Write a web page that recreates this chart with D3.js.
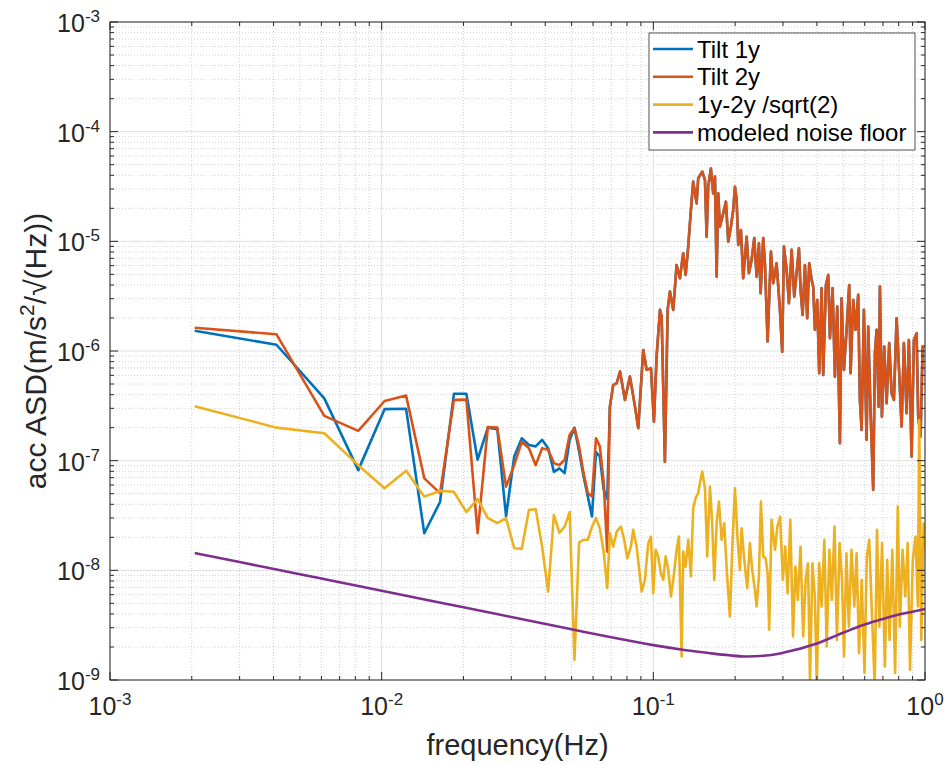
<!DOCTYPE html>
<html>
<head>
<meta charset="utf-8">
<script src="https://cdn.jsdelivr.net/npm/d3@7"></script>
<style>
html, body { margin: 0; padding: 0; background: #fff; }
svg { display: block; font-family: "Liberation Sans", Arial, Helvetica, sans-serif; }
</style>
</head>
<body>
<div id="chart"></div>
<script>
/* DATA */
// Low frequency bins (Hz), shared by the three measured series
const freqLow = [0.00205, 0.0041, 0.00615, 0.0082, 0.01025, 0.0123, 0.01435, 0.0164, 0.01845, 0.0205,
    0.02255, 0.0246, 0.02665, 0.0287, 0.03075, 0.0328, 0.03485, 0.0369, 0.03895, 0.041,
    0.04305, 0.0451, 0.04715, 0.0492, 0.05125, 0.0533, 0.05535, 0.0574, 0.05945, 0.0615,
    0.06355, 0.0656, 0.06765];
const tilt1Low = [1.53e-6, 1.14e-6, 3.7e-7, 8.2e-8, 2.95e-7, 2.97e-7, 2.18e-8, 4.2e-8, 4.07e-7, 4.07e-7,
    1.02e-7, 2.0e-7, 1.94e-7, 3.1e-8, 1.09e-7, 1.6e-7, 1.39e-7, 1.35e-7, 1.55e-7, 1.3e-7,
    7.9e-8, 8.5e-8, 7.7e-8, 1.55e-7, 2.0e-7, 1.21e-7, 7.2e-8, 4.7e-8, 3.1e-8, 1.2e-7,
    1.09e-7, 5.5e-8, 4.5e-8];
const tilt2Low = [1.63e-6, 1.42e-6, 2.56e-7, 1.87e-7, 3.5e-7, 3.92e-7, 6.9e-8, 5.06e-8, 3.58e-7, 3.6e-7,
    2.18e-8, 2.03e-7, 2.0e-7, 5.8e-8, 9.1e-8, 1.49e-7, 1.3e-7, 9.1e-8, 1.3e-7, 1.26e-7,
    9.5e-8, 9.1e-8, 1.02e-7, 1.72e-7, 1.98e-7, 1.35e-7, 7.7e-8, 5.06e-8, 4.7e-8, 1.6e-7,
    1.35e-7, 6.5e-8, 1.48e-8];
const diffLow = [3.14e-7, 2.0e-7, 1.78e-7, 9.1e-8, 5.6e-8, 8.1e-8, 4.7e-8, 5.3e-8, 5.2e-8, 3.4e-8,
    4.45e-8, 3.0e-8, 2.7e-8, 3.0e-8, 1.59e-8, 1.57e-8, 3.56e-8, 3.6e-8, 1.65e-8, 6.4e-9,
    3.2e-8, 2.2e-8, 2.5e-8, 3.4e-8, 1.53e-9, 1.8e-8, 1.9e-8, 1.9e-8, 2.5e-8, 3.0e-8,
    2.4e-8, 1.5e-8, 6.9e-9];

// High frequency part, tilt 1y and 2y lie on top of each other here
const tiltHighF = [0.0692, 0.0712, 0.0733, 0.0754, 0.0786, 0.0820, 0.0856, 0.0880, 0.0918, 0.0945,
    0.0980, 0.1005, 0.1028, 0.1058, 0.1073, 0.1103, 0.1129, 0.1151, 0.1184, 0.1218,
    0.1253, 0.1288, 0.1315, 0.1344, 0.1375, 0.1402, 0.1443, 0.1463, 0.1514, 0.1549,
    0.1571, 0.1592, 0.1629, 0.1661, 0.1686, 0.1710, 0.1733, 0.1758, 0.1808, 0.1850,
    0.1887, 0.1930, 0.1968, 0.1997, 0.2026, 0.2054, 0.2101, 0.2142, 0.2205, 0.2248,
    0.2300, 0.2352, 0.2400, 0.2447, 0.2483, 0.2538, 0.2575, 0.2634, 0.2709, 0.2762,
    0.2843, 0.2924, 0.2981, 0.3025, 0.3095, 0.3156, 0.3229, 0.3301, 0.3368, 0.3435,
    0.3484, 0.3544, 0.3614, 0.3685, 0.3748, 0.3825, 0.3877, 0.3933, 0.4011, 0.4079,
    0.4163, 0.4220, 0.4318, 0.4403, 0.4467, 0.4570, 0.4660, 0.4752, 0.4862, 0.4932,
    0.5029, 0.5146, 0.5260, 0.5323, 0.5442, 0.5553, 0.5677, 0.5759, 0.5843, 0.5958,
    0.6096, 0.6179, 0.6307, 0.6447, 0.6541, 0.6636, 0.6750, 0.6825, 0.6941, 0.7078,
    0.7223, 0.7383, 0.7535, 0.7683, 0.7861, 0.8036, 0.8201, 0.8362, 0.8556, 0.8724,
    0.8926, 0.9102, 0.9313, 0.9440, 0.9634, 0.9799, 1.0];
const tiltHighV = [3.11e-7, 4.91e-7, 5.08e-7, 6.49e-7, 3.58e-7, 5.84e-7, 3.11e-7, 1.98e-7, 1.02e-6, 6.73e-7,
    6.97e-7, 2.27e-7, 8.89e-7, 2.37e-6, 2.06e-6, 9.8e-8, 2.37e-6, 3.48e-6, 2.37e-6, 6.09e-6,
    4.61e-6, 7.79e-6, 4.94e-6, 8.95e-6, 1.93e-5, 3.50e-5, 2.22e-5, 3.76e-5, 4.32e-5, 3.63e-5,
    1.10e-5, 3.15e-5, 4.6e-5, 2.74e-5, 3.89e-5, 4.77e-6, 2.74e-5, 1.36e-5, 1.80e-5, 2.30e-5,
    9.94e-6, 1.36e-5, 1.93e-5, 3.15e-5, 2.38e-5, 9.27e-6, 1.27e-5, 4.61e-6, 1.10e-5, 5.12e-6,
    6.77e-6, 1.07e-5, 4.77e-6, 9.61e-6, 3.36e-6, 1.07e-5, 6.31e-6, 1.22e-6, 8.05e-6, 4.15e-6,
    6.31e-6, 2.37e-6, 9.87e-7, 8.95e-6, 5.48e-6, 2.73e-6, 8.35e-6, 3.13e-6, 5.12e-6, 8.65e-6,
    3.61e-6, 2.13e-6, 6.09e-6, 1.99e-6, 6.31e-6, 4.45e-6, 3.86e-6, 1.56e-6, 2.92e-6, 6.27e-7,
    3.74e-6, 6.05e-7, 4.00e-6, 4.94e-6, 1.31e-6, 3.74e-6, 5.84e-7, 2.54e-6, 1.44e-7, 3.03e-6,
    6.73e-7, 1.56e-6, 4.00e-6, 6.27e-7, 2.92e-6, 1.56e-6, 3.25e-6, 3.58e-7, 1.91e-7, 2.37e-6,
    1.55e-7, 1.67e-6, 2.71e-7, 5.42e-8, 9.55e-7, 1.56e-6, 3.11e-7, 3.86e-6, 2.52e-7, 1.10e-6,
    3.34e-7, 1.18e-6, 4.12e-7, 3.58e-7, 1.99e-6, 6.27e-7, 2.05e-7, 1.18e-6, 2.71e-7, 1.26e-6,
    1.09e-7, 1.26e-6, 1.45e-6, 2.52e-7, 1.66e-7, 1.10e-6, 1.10e-6];

// High frequency part of 1y-2y /sqrt(2)
const diffHighF = [0.0692, 0.0712, 0.0733, 0.0760, 0.0781, 0.0802, 0.0827, 0.0843, 0.0868, 0.0906,
    0.0931, 0.0958, 0.0980, 0.0999, 0.1020, 0.1042, 0.1066, 0.1088, 0.1110, 0.1135,
    0.1161, 0.1184, 0.1218, 0.1242, 0.1271, 0.1288, 0.1315, 0.1344, 0.1375, 0.1402,
    0.1431, 0.1463, 0.1484, 0.1514, 0.1549, 0.1579, 0.1616, 0.1647, 0.1676, 0.1710,
    0.1744, 0.1784, 0.1824, 0.1866, 0.1914, 0.1952, 0.1997, 0.2043, 0.2083, 0.2113,
    0.2161, 0.2216, 0.2267, 0.2312, 0.2366, 0.2400, 0.2447, 0.2489, 0.2538, 0.2590,
    0.2634, 0.2670, 0.2725, 0.2805, 0.2862, 0.2929, 0.2997, 0.3058, 0.3121, 0.3193,
    0.3267, 0.3334, 0.3403, 0.3481, 0.3562, 0.3635, 0.3710, 0.3773, 0.3851, 0.3930,
    0.3997, 0.4079, 0.4163, 0.4260, 0.4347, 0.4448, 0.4539, 0.4644, 0.4740, 0.4849,
    0.4949, 0.5034, 0.5137, 0.5243, 0.5364, 0.5493, 0.5601, 0.5716, 0.5848, 0.5989,
    0.6107, 0.6232, 0.6376, 0.6530, 0.6658, 0.6795, 0.6952, 0.7119, 0.7259, 0.7408,
    0.7580, 0.7762, 0.7941, 0.8077, 0.8271, 0.8463, 0.8637, 0.8807, 0.9018, 0.9227,
    0.9416, 0.9521, 0.9692, 0.9882, 1.0];
const diffHighV = [2.18e-8, 1.65e-8, 2.26e-8, 2.51e-8, 1.90e-8, 1.29e-8, 1.65e-8, 2.34e-8, 1.65e-8, 6.41e-9,
    8.19e-9, 1.77e-8, 2.03e-8, 6.19e-9, 1.54e-8, 1.34e-8, 9.43e-9, 8.19e-9, 1.34e-8, 1.01e-8,
    5.77e-9, 8.19e-9, 1.54e-8, 2.03e-8, 1.64e-9, 1.48e-8, 1.08e-8, 1.90e-8, 8.78e-9, 3.69e-8,
    4.55e-8, 5.05e-8, 6.23e-8, 7.95e-8, 5.61e-8, 1.34e-8, 5.80e-8, 2.69e-8, 8.19e-9, 2.69e-8,
    4.24e-8, 1.90e-8, 2.69e-8, 9.43e-9, 3.79e-9, 1.54e-8, 5.61e-8, 1.90e-8, 1.01e-8, 2.42e-8,
    1.25e-8, 6.88e-9, 1.77e-8, 1.01e-8, 6.64e-9, 4.68e-9, 8.78e-9, 4.24e-8, 1.34e-8, 1.29e-8,
    9.43e-9, 2.87e-9, 2.89e-8, 1.54e-8, 2.51e-8, 3.09e-8, 8.19e-9, 1.65e-8, 6.19e-9, 2.89e-8,
    2.49e-9, 1.08e-8, 5.38e-9, 1.65e-8, 2.49e-9, 8.19e-9, 1.16e-8, 9.5e-10, 1.16e-8, 5.77e-9,
    9.0e-10, 1.16e-8, 4.68e-9, 1.90e-8, 2.02e-9, 1.54e-8, 5.38e-9, 2.51e-8, 2.32e-9, 1.77e-8,
    8.19e-9, 1.64e-9, 1.43e-8, 3.07e-9, 1.54e-8, 4.68e-9, 1.43e-8, 1.76e-9, 8.19e-9, 1.16e-9,
    1.34e-8, 1.90e-8, 4.07e-9, 9.0e-10, 2.34e-8, 3.07e-9, 1.77e-8, 1.33e-9, 1.25e-8, 2.32e-9,
    1.54e-8, 1.16e-9, 3.82e-8, 3.07e-9, 1.54e-8, 5.77e-9, 1.77e-8, 1.24e-9, 1.25e-8, 2.03e-8,
    4.68e-9, 2.35e-7, 2.32e-9, 2.69e-8, 1.54e-8];

// Modeled noise floor
const noiseF = [0.00205, 0.003, 0.005, 0.007, 0.01, 0.015, 0.02, 0.03, 0.05, 0.07, 0.1, 0.13,
    0.16, 0.19, 0.22, 0.26, 0.3, 0.4, 0.5, 0.6, 0.7, 0.8, 0.9, 1.0];
const noiseV = [1.44e-8, 1.19e-8, 9.2e-9, 7.8e-9, 6.5e-9, 5.3e-9, 4.6e-9, 3.75e-9, 2.9e-9, 2.45e-9, 2.08e-9, 1.88e-9,
    1.76e-9, 1.68e-9, 1.64e-9, 1.67e-9, 1.77e-9, 2.15e-9, 2.7e-9, 3.2e-9, 3.6e-9, 3.95e-9, 4.2e-9, 4.45e-9];

// Axes
const xDomain = [1e-3, 1];
const yDomain = [1e-9, 1e-3];
const xTickExp = ["-3", "-2", "-1", "0"];
const yTickExp = ["-9", "-8", "-7", "-6", "-5", "-4", "-3"];
const legendNames = ["Tilt 1y", "Tilt 2y", "1y-2y /sqrt(2)", "modeled noise floor"];
const colors = ["#0072BD", "#D95319", "#EDB120", "#7E2F8E"];

/* CHART */
const W = 948, H = 765;
const m = {top: 22, right: 23, bottom: 85, left: 110};
const axc = "#262626";

const x = d3.scaleLog().domain(xDomain).range([m.left, W - m.right]);
const y = d3.scaleLog().domain(yDomain).range([H - m.bottom, m.top]);
const [x0, x1] = x.range();
const [y0, y1] = y.range();

const svg = d3.select("#chart").append("svg")
    .attr("width", W)
    .attr("height", H);
svg.append("rect").attr("width", W).attr("height", H).attr("fill", "#fff");

// Tick values: decades are major, 2..9 are minor
const isMajor = (v) => Math.abs(Math.log10(v) - Math.round(Math.log10(v))) < 1e-9;
const xAll = x.ticks();
const yAll = y.ticks();
const xMajor = xAll.filter(isMajor), xMinor = xAll.filter((v) => !isMajor(v));
const yMajor = yAll.filter(isMajor), yMinor = yAll.filter((v) => !isMajor(v));

// Grid
const grid = svg.append("g");
grid.selectAll(".gxm").data(xMinor).join("line")
    .attr("x1", (d) => x(d)).attr("x2", (d) => x(d)).attr("y1", y0).attr("y2", y1)
    .attr("stroke", "#c4c4c4").attr("stroke-width", 0.8).attr("stroke-dasharray", "1,2");
grid.selectAll(".gym").data(yMinor).join("line")
    .attr("y1", (d) => y(d)).attr("y2", (d) => y(d)).attr("x1", x0).attr("x2", x1)
    .attr("stroke", "#c4c4c4").attr("stroke-width", 0.8).attr("stroke-dasharray", "1,2");
grid.selectAll(".gx").data(xMajor).join("line")
    .attr("x1", (d) => x(d)).attr("x2", (d) => x(d)).attr("y1", y0).attr("y2", y1)
    .attr("stroke", "#dedede").attr("stroke-width", 1);
grid.selectAll(".gy").data(yMajor).join("line")
    .attr("y1", (d) => y(d)).attr("y2", (d) => y(d)).attr("x1", x0).attr("x2", x1)
    .attr("stroke", "#dedede").attr("stroke-width", 1);

// Lines
svg.append("clipPath").attr("id", "plot-clip")
    .append("rect").attr("x", x0).attr("y", y1).attr("width", x1 - x0).attr("height", y0 - y1);

const series = [
    d3.zip(freqLow.concat(tiltHighF), tilt1Low.concat(tiltHighV)),
    d3.zip(freqLow.concat(tiltHighF), tilt2Low.concat(tiltHighV)),
    d3.zip(freqLow.concat(diffHighF), diffLow.concat(diffHighV)),
    d3.zip(noiseF, noiseV)
];
const line = d3.line().x((d) => x(d[0])).y((d) => y(d[1]));
const smooth = d3.line().x((d) => x(d[0])).y((d) => y(d[1])).curve(d3.curveMonotoneX);

svg.append("g").attr("clip-path", "url(#plot-clip)")
    .selectAll("path").data(series).join("path")
    .attr("d", (d, i) => i === 3 ? smooth(d) : line(d))
    .attr("fill", "none")
    .attr("stroke", (d, i) => colors[i])
    .attr("stroke-width", 2.6)
    .attr("stroke-linejoin", "round");

// Box and inward ticks on all four sides
const ax = svg.append("g").attr("stroke", axc).attr("stroke-width", 1);
ax.append("rect").attr("x", x0).attr("y", y1).attr("width", x1 - x0).attr("height", y0 - y1).attr("fill", "none");
const tickLen = (v) => isMajor(v) ? 8 : 4;
ax.selectAll(".tb").data(xAll).join("line")
    .attr("x1", (d) => x(d)).attr("x2", (d) => x(d)).attr("y1", y0).attr("y2", (d) => y0 - tickLen(d));
ax.selectAll(".tt").data(xAll).join("line")
    .attr("x1", (d) => x(d)).attr("x2", (d) => x(d)).attr("y1", y1).attr("y2", (d) => y1 + tickLen(d));
ax.selectAll(".tl").data(yAll).join("line")
    .attr("y1", (d) => y(d)).attr("y2", (d) => y(d)).attr("x1", x0).attr("x2", (d) => x0 + tickLen(d));
ax.selectAll(".tr").data(yAll).join("line")
    .attr("y1", (d) => y(d)).attr("y2", (d) => y(d)).attr("x1", x1).attr("x2", (d) => x1 - tickLen(d));

// Tick labels 10^n
const xl = svg.append("g").attr("fill", axc).attr("font-size", 25).attr("text-anchor", "middle");
xMajor.forEach((v, i) => {
    const t = xl.append("text").attr("x", x(v)).attr("y", y0 + 35);
    t.append("tspan").text("10");
    t.append("tspan").attr("font-size", 17).attr("dy", -10).text(xTickExp[i]);
});
const yl = svg.append("g").attr("fill", axc).attr("font-size", 25).attr("text-anchor", "end");
yMajor.forEach((v, i) => {
    const t = yl.append("text").attr("x", x0 - 10).attr("y", y(v) + 10);
    t.append("tspan").text("10");
    t.append("tspan").attr("font-size", 17).attr("dy", -10).text(yTickExp[i]);
});

// Axis titles
svg.append("text")
    .attr("x", (x0 + x1) / 2).attr("y", y0 + 75)
    .attr("text-anchor", "middle").attr("font-size", 29).attr("fill", axc)
    .text("frequency(Hz)");
const yt = svg.append("text")
    .attr("transform", `translate(46, ${(y0 + y1) / 2}) rotate(-90)`)
    .attr("text-anchor", "middle").attr("font-size", 30).attr("fill", axc);
yt.append("tspan").text("acc ASD(m/s");
yt.append("tspan").attr("font-size", 21).attr("dy", -12).text("2");
yt.append("tspan").attr("dy", 12).text("/\u221A(Hz))");

// Legend
const lg = svg.append("g");
lg.append("rect").attr("x", 649).attr("y", 33).attr("width", 266).attr("height", 117)
    .attr("fill", "#fff").attr("stroke", axc).attr("stroke-width", 0.8);
legendNames.forEach((name, i) => {
    const ly = 49 + i * 27.8;
    lg.append("line").attr("x1", 653).attr("x2", 693).attr("y1", ly).attr("y2", ly)
        .attr("stroke", colors[i]).attr("stroke-width", 2.6);
    lg.append("text").attr("x", 697).attr("y", ly + 8.5)
        .attr("font-size", 24).attr("fill", "#000").text(name);
});
</script>
</body>
</html>
